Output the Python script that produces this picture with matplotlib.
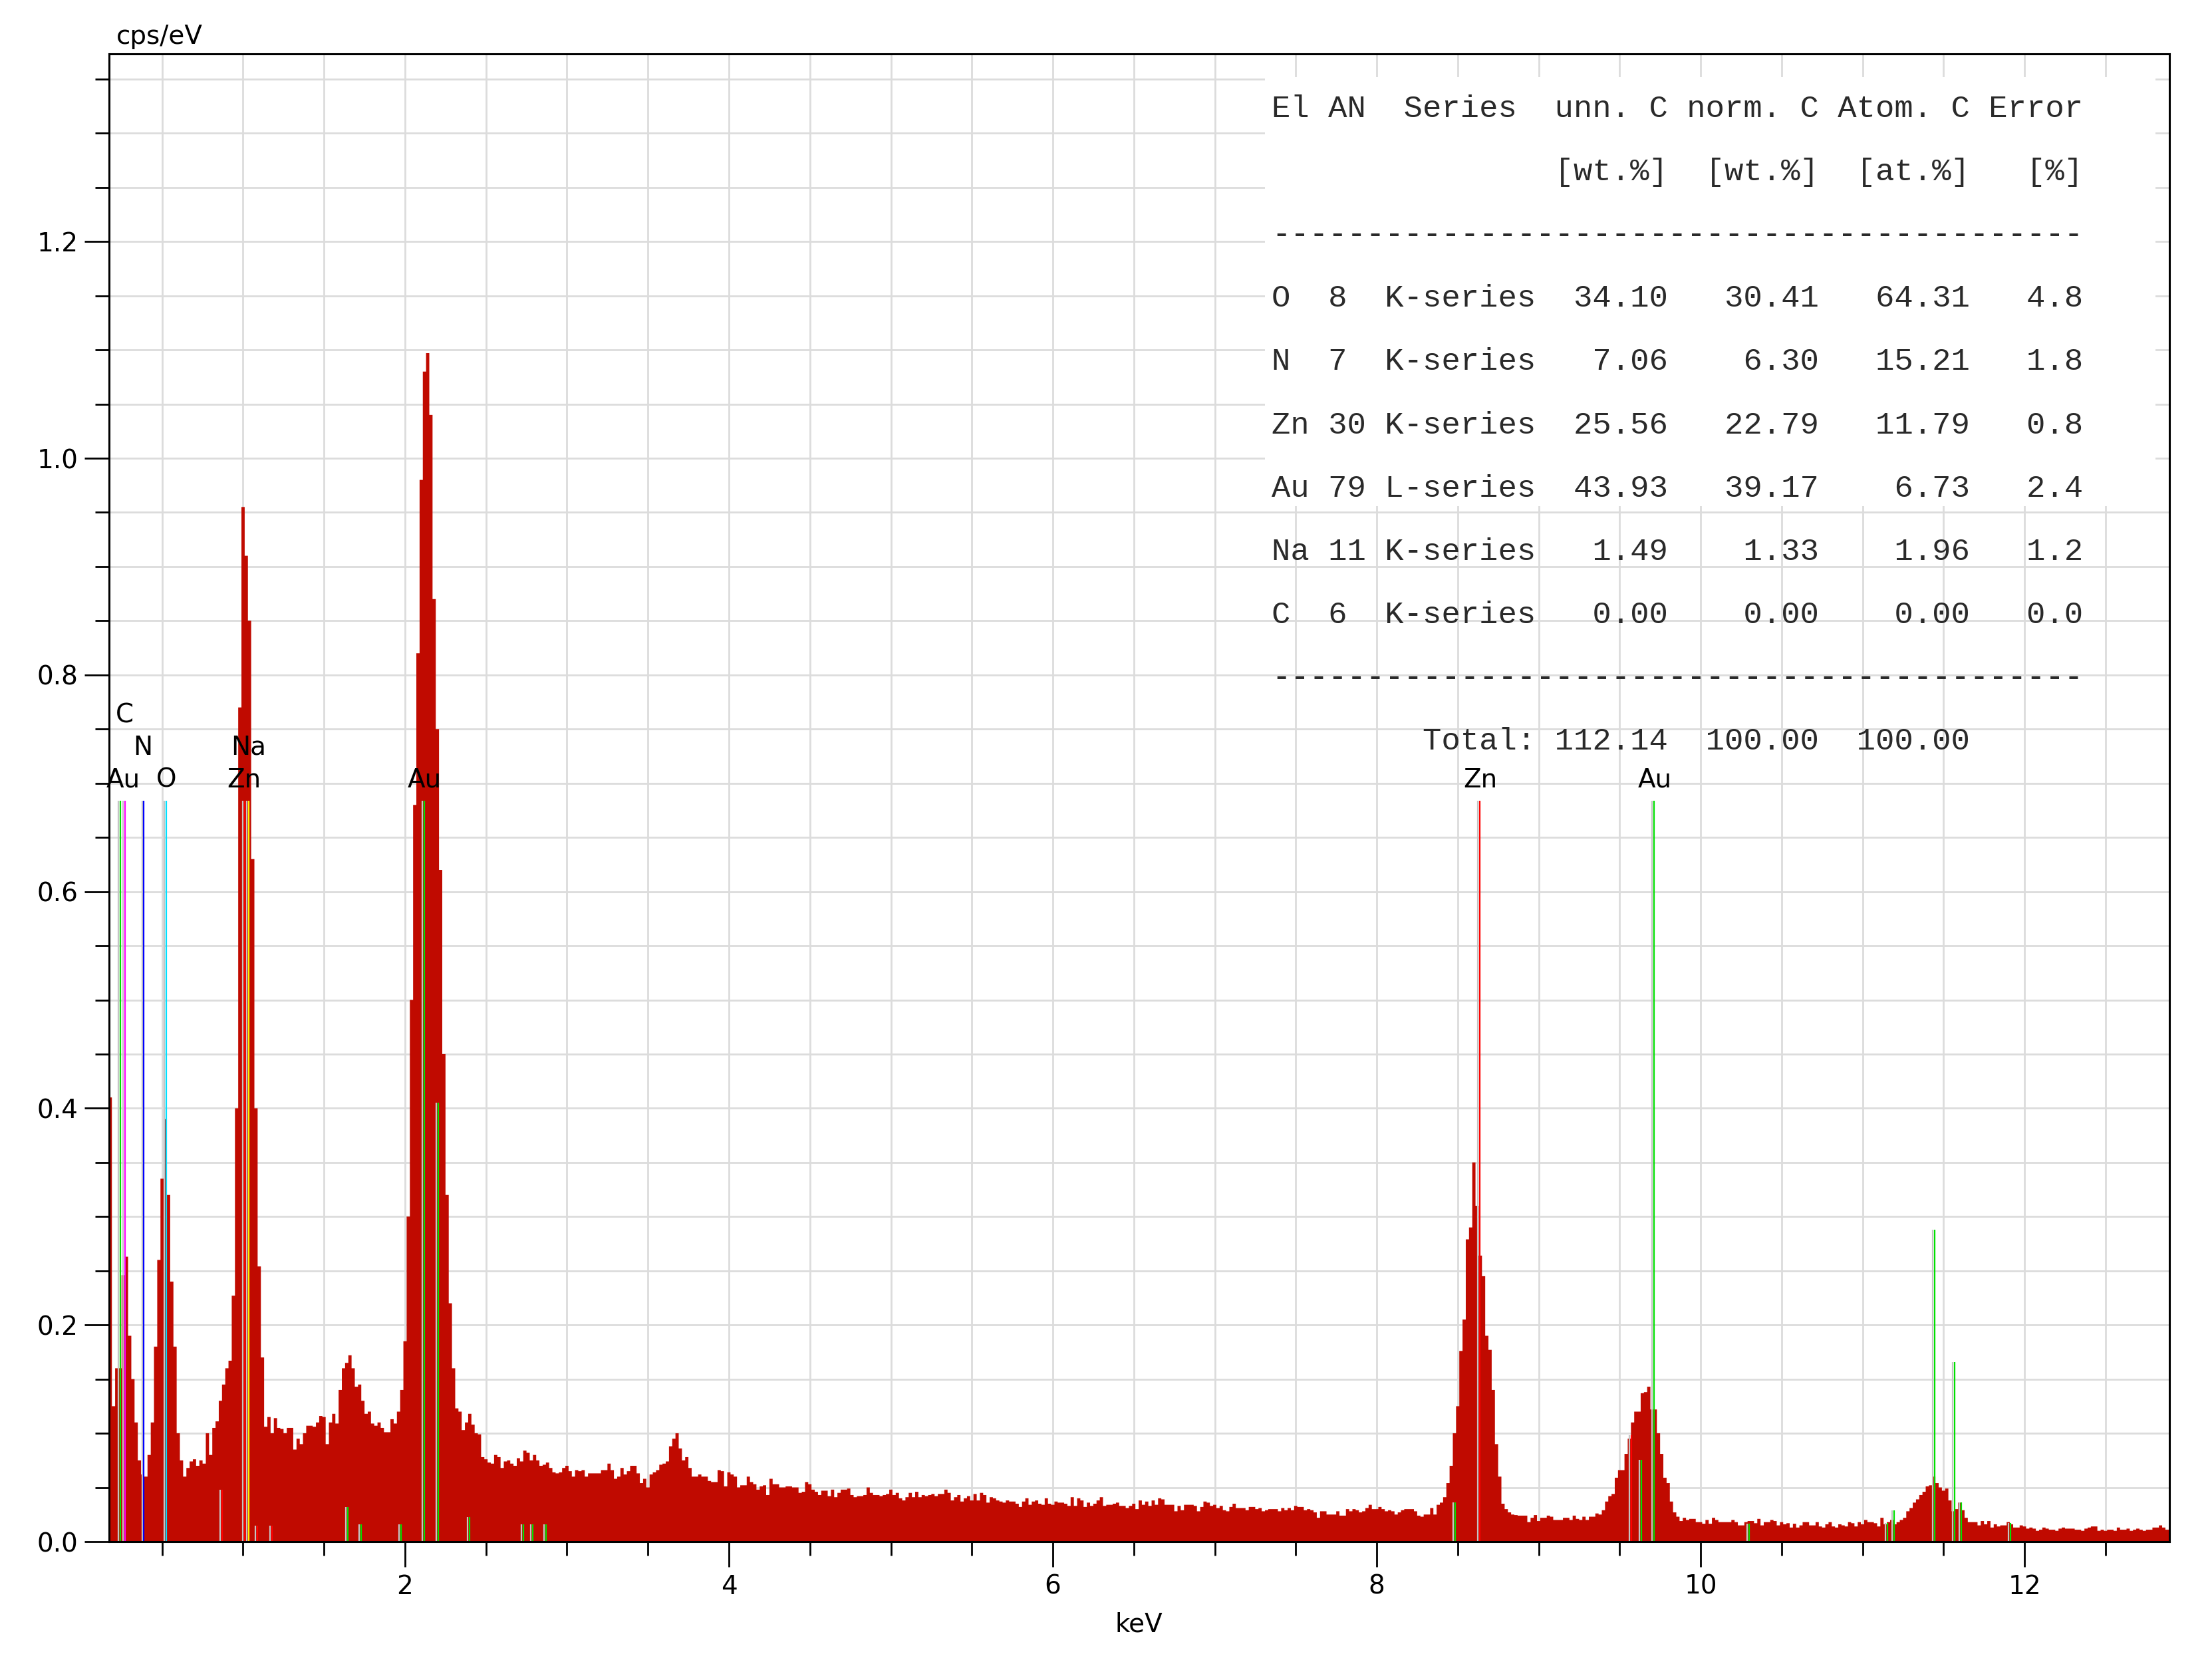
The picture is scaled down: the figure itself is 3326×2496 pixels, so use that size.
import numpy as np
import matplotlib.pyplot as plt
from matplotlib.ticker import MultipleLocator, FormatStrFormatter
from matplotlib.patches import Rectangle

# spectrum channels: first channel centre and width (keV)
E_START = 0.18
E_STEP = 0.02

# cps/eV per channel, in energy blocks
cps_low = [0.41, 0.125, 0.16, 0.16, 0.246, 0.263, 0.19, 0.15, 0.11, 0.075,
           0.062, 0.06, 0.08, 0.11, 0.18, 0.26, 0.335, 0.39, 0.32, 0.24,
           0.18, 0.10, 0.075, 0.06, 0.068, 0.074, 0.076, 0.07, 0.075, 0.072,
           0.10, 0.08, 0.105, 0.111, 0.13, 0.145, 0.16, 0.167, 0.227, 0.40]   # 0.18 - 0.96

cps_zn_l = [0.77, 0.955, 0.91, 0.85, 0.63, 0.40, 0.254, 0.17, 0.106, 0.115,
            0.10, 0.114, 0.105, 0.104, 0.10, 0.105, 0.105, 0.085, 0.095, 0.09,
            0.10, 0.107, 0.107, 0.106, 0.11, 0.116, 0.115, 0.09, 0.11, 0.118,
            0.109, 0.14, 0.16, 0.165, 0.172, 0.16, 0.143, 0.145, 0.13, 0.118,
            0.12, 0.109, 0.107, 0.11, 0.105, 0.101, 0.101, 0.113, 0.109, 0.12,
            0.14, 0.185]   # 0.98 - 2.00

cps_au_m = [0.30, 0.50, 0.68, 0.82, 0.98, 1.08, 1.097, 1.04, 0.87, 0.75,
            0.62, 0.45, 0.32, 0.22, 0.16, 0.123, 0.12, 0.103, 0.11, 0.118,
            0.108, 0.10, 0.099, 0.078, 0.076, 0.073, 0.072, 0.08, 0.078, 0.068,
            0.074, 0.075, 0.072, 0.07, 0.077, 0.074, 0.084, 0.082, 0.075, 0.08,
            0.075, 0.07, 0.071, 0.073, 0.068, 0.064, 0.063, 0.064, 0.068, 0.07,
            0.065, 0.06, 0.066, 0.065, 0.066, 0.06, 0.063, 0.063, 0.063, 0.063,
            0.066, 0.066, 0.072, 0.066, 0.058, 0.06, 0.068, 0.062, 0.065, 0.07,
            0.07, 0.063, 0.054, 0.058, 0.05, 0.062, 0.064, 0.066, 0.071, 0.072,
            0.074, 0.088, 0.095, 0.10, 0.086, 0.075, 0.078, 0.068, 0.06, 0.06]   # 2.02 - 3.80

cps_bg1 = [0.062, 0.06, 0.06, 0.056, 0.055, 0.055, 0.066, 0.065, 0.051, 0.064,
           0.062, 0.06, 0.05, 0.052, 0.052, 0.06, 0.055, 0.053, 0.048, 0.051,
           0.052, 0.043, 0.058, 0.053, 0.053, 0.05, 0.05, 0.051, 0.051, 0.05,
           0.05, 0.045, 0.046, 0.055, 0.053, 0.048, 0.046, 0.043, 0.047, 0.047,
           0.042, 0.048, 0.041, 0.045, 0.048, 0.048, 0.049, 0.043, 0.041, 0.042,
           0.042, 0.043, 0.05, 0.045, 0.043, 0.043, 0.042, 0.043, 0.044, 0.048,
           0.043, 0.045, 0.04, 0.038, 0.041, 0.045, 0.041, 0.046, 0.041, 0.043,
           0.042, 0.043, 0.044, 0.042, 0.044, 0.044, 0.048, 0.045, 0.038, 0.041,
           0.043, 0.037, 0.04, 0.042, 0.038, 0.044, 0.038, 0.045, 0.043, 0.036,
           0.041, 0.04, 0.038, 0.037, 0.036, 0.038, 0.037, 0.037, 0.035, 0.032,
           0.037, 0.04, 0.034, 0.037, 0.038, 0.035, 0.034, 0.04, 0.035, 0.034]   # 3.82 - 6.00

cps_bg2 = [0.037,
           0.036, 0.036, 0.035, 0.033, 0.041, 0.033, 0.04, 0.038, 0.032, 0.036,
           0.033, 0.035, 0.038, 0.041, 0.033, 0.034, 0.034, 0.035, 0.036, 0.033,
           0.033, 0.031, 0.033, 0.035, 0.03, 0.038, 0.034, 0.037, 0.033, 0.038,
           0.034, 0.04, 0.039, 0.034, 0.034, 0.034, 0.028, 0.033, 0.029, 0.034,
           0.034, 0.034, 0.033, 0.028, 0.032, 0.037, 0.036, 0.033, 0.034, 0.031,
           0.033, 0.029, 0.028, 0.032, 0.035, 0.031, 0.031, 0.031, 0.029, 0.032,
           0.032, 0.03, 0.031, 0.028, 0.029, 0.03, 0.03, 0.03, 0.028, 0.031,
           0.029, 0.031, 0.029, 0.033, 0.032, 0.032, 0.029, 0.03, 0.029, 0.027,
           0.022, 0.028, 0.028, 0.025, 0.025, 0.025, 0.028, 0.024, 0.024, 0.03,
           0.028, 0.03, 0.029, 0.027, 0.028, 0.031, 0.034, 0.03, 0.03, 0.032,
           0.03, 0.028, 0.029, 0.028, 0.025, 0.027, 0.029, 0.03, 0.03, 0.03, 0.028]   # 6.02 - 8.24

cps_k = [0.024, 0.023, 0.025, 0.025, 0.031, 0.025, 0.034, 0.036, 0.041, 0.054,
         0.07, 0.10, 0.125, 0.176, 0.205, 0.279, 0.29, 0.35, 0.31, 0.264,
         0.245, 0.19, 0.177, 0.14, 0.09, 0.06, 0.035, 0.03, 0.027, 0.025,
         0.0245, 0.024, 0.024, 0.024, 0.018, 0.022, 0.0245, 0.019, 0.022, 0.022,
         0.024, 0.023, 0.02, 0.02, 0.02, 0.022, 0.022, 0.02, 0.024, 0.021,
         0.02, 0.023, 0.02, 0.023, 0.023, 0.026, 0.025, 0.029, 0.037, 0.042,
         0.044, 0.059, 0.066, 0.066, 0.081, 0.095, 0.11, 0.12, 0.12, 0.137,
         0.138, 0.143, 0.122, 0.122, 0.10, 0.081, 0.059, 0.054, 0.037, 0.027,
         0.023, 0.019, 0.022, 0.02, 0.021, 0.021, 0.018, 0.018, 0.0165, 0.02,
         0.0165, 0.022, 0.02, 0.018, 0.018, 0.018, 0.018, 0.02, 0.018, 0.015,
         0.015, 0.018, 0.019, 0.019, 0.017, 0.021, 0.015, 0.018, 0.018, 0.02,
         0.019, 0.015, 0.018, 0.016, 0.017, 0.013, 0.0165, 0.013, 0.015, 0.018,
         0.018, 0.015, 0.015, 0.018, 0.014, 0.013, 0.016]   # 8.26 - 10.78

cps_high = [0.018, 0.014, 0.013, 0.016, 0.015, 0.014, 0.018, 0.017, 0.014, 0.018,
            0.016, 0.02, 0.018, 0.018, 0.017, 0.014, 0.022, 0.016, 0.018, 0.02,
            0.016, 0.018, 0.02, 0.022, 0.028, 0.031, 0.036, 0.039, 0.043, 0.046,
            0.051, 0.052, 0.06, 0.054, 0.05, 0.047, 0.049, 0.038, 0.028, 0.03,
            0.036, 0.029, 0.022, 0.018, 0.018, 0.018, 0.015, 0.019, 0.016, 0.019,
            0.013, 0.016, 0.014, 0.015, 0.015, 0.018, 0.016, 0.013, 0.013, 0.015,
            0.014, 0.012, 0.013, 0.012, 0.01, 0.011, 0.013, 0.012, 0.011, 0.011,
            0.01, 0.012, 0.013, 0.012, 0.012, 0.012, 0.011, 0.011, 0.01, 0.012,
            0.013, 0.014, 0.014, 0.01, 0.011, 0.01, 0.011, 0.011, 0.01, 0.013,
            0.011, 0.011, 0.012, 0.01, 0.011, 0.012, 0.011, 0.01, 0.011, 0.011,
            0.013, 0.013, 0.015, 0.013, 0.011, 0.011]   # 10.80 - 12.90

# element line markers: energy (keV), height (cps/eV), colour
line_kev = [0.243, 0.272, 0.388, 0.525, 0.870, 1.012, 1.036, 1.090, 1.180,
            1.646, 1.730, 1.976, 2.120, 2.204, 2.400, 2.730, 2.790, 2.872,
            8.485, 8.636, 9.572, 9.635, 9.713, 10.300,
            11.155, 11.193, 11.444, 11.570, 11.610, 11.914]
line_top = [0.684, 0.684, 0.684, 0.684, 0.048, 0.684, 0.684, 0.015, 0.015,
            0.032, 0.016, 0.016, 0.684, 0.405, 0.0225, 0.016, 0.016, 0.016,
            0.036, 0.684, 0.098, 0.0755, 0.684, 0.0165,
            0.017, 0.029, 0.288, 0.166, 0.036, 0.017]
line_col = ['#00e000', '#ff00ff', '#0000ff', '#00e0ff', '#ff0000', '#ff0000', '#ffee00', '#ff0000', '#ff0000',
            '#00e000', '#00e000', '#00e000', '#00e000', '#00e000', '#00e000', '#00e000', '#00e000', '#00e000',
            '#00e000', '#ff0000', '#ff0000', '#00e000', '#00e000', '#00e000',
            '#00e000', '#00e000', '#00e000', '#00e000', '#00e000', '#00e000']

label_txt = ['C', 'N', 'Au', 'O', 'Na', 'Zn', 'Au', 'Zn', 'Au']
label_kev = [0.267, 0.380, 0.258, 0.528, 1.033, 1.007, 2.122, 8.638, 9.718]
label_y = [0.763, 0.733, 0.703, 0.703, 0.733, 0.703, 0.703, 0.703, 0.703]

table_rows = [
    "El AN  Series  unn. C norm. C Atom. C Error",
    "               [wt.%]  [wt.%]  [at.%]   [%]",
    "-------------------------------------------",
    "O  8  K-series  34.10   30.41   64.31   4.8",
    "N  7  K-series   7.06    6.30   15.21   1.8",
    "Zn 30 K-series  25.56   22.79   11.79   0.8",
    "Au 79 L-series  43.93   39.17    6.73   2.4",
    "Na 11 K-series   1.49    1.33    1.96   1.2",
    "C  6  K-series   0.00    0.00    0.00   0.0",
    "-------------------------------------------",
    "        Total: 112.14  100.00  100.00",
]

counts = cps_low + cps_zn_l + cps_au_m + cps_bg1 + cps_bg2 + cps_k + cps_high
edges = E_START - E_STEP / 2 + E_STEP * np.arange(len(counts) + 1)

W, H = 3326, 2496
fig = plt.figure(figsize=(W / 200, H / 200), dpi=200)
ax = fig.add_axes([163.6 / W, 1 - 2318 / H, (3262 - 163.6) / W, (2318 - 80.6) / H])

spec_red = '#c00a00'
ax.stairs(counts, edges, fill=True, color=spec_red, linewidth=0, zorder=2)

# marker lines with a light grey shadow just left of each
ax.vlines(np.array(line_kev) - 0.012, 0, line_top, colors='#c4c4c4', linewidth=0.8, zorder=3)
ax.vlines(line_kev, 0, line_top, colors=line_col, linewidth=0.8, zorder=4)

for t, xk, yv in zip(label_txt, label_kev, label_y):
    ax.text(xk, yv, t, ha='center', va='center', fontsize=14, color='black', zorder=5)

# white panel behind the quantification table
ax.add_patch(Rectangle((7.31, 0.956), 12.81 - 7.31, 1.352 - 0.956, facecolor='white',
                       edgecolor='none', zorder=1))
y0 = 1.315
for i, row in enumerate(table_rows):
    ax.text(7.351, y0 - i * 0.0584, row, family='Liberation Mono', fontsize=17,
            ha='left', va='baseline', color='#2a2a2a', zorder=6)

ax.set_xlim(0.171, 12.895)
ax.set_ylim(0, 1.3735)
ax.xaxis.set_major_locator(MultipleLocator(2))
ax.xaxis.set_minor_locator(MultipleLocator(0.5))
ax.yaxis.set_major_locator(MultipleLocator(0.2))
ax.yaxis.set_minor_locator(MultipleLocator(0.05))
ax.xaxis.set_major_formatter(FormatStrFormatter('%d'))
ax.yaxis.set_major_formatter(FormatStrFormatter('%.1f'))

ax.set_axisbelow(True)
ax.grid(which='both', color='#dcdcdc', linewidth=1.0, zorder=0)
ax.tick_params(which='major', direction='out', length=13.5, width=1.0, labelsize=14, pad=3)
ax.tick_params(axis='x', which='major', pad=4)
ax.tick_params(which='minor', direction='out', length=7.5, width=1.0)
for s in ax.spines.values():
    s.set_linewidth(1.1)
    s.set_zorder(7)

fig.text(1712 / W, 1 - 2443 / H, 'keV', ha='center', va='center', fontsize=14)
fig.text(175 / W, 1 - 55 / H, 'cps/eV', ha='left', va='center', fontsize=14)

fig.savefig('out.png', dpi=200, facecolor='white')
